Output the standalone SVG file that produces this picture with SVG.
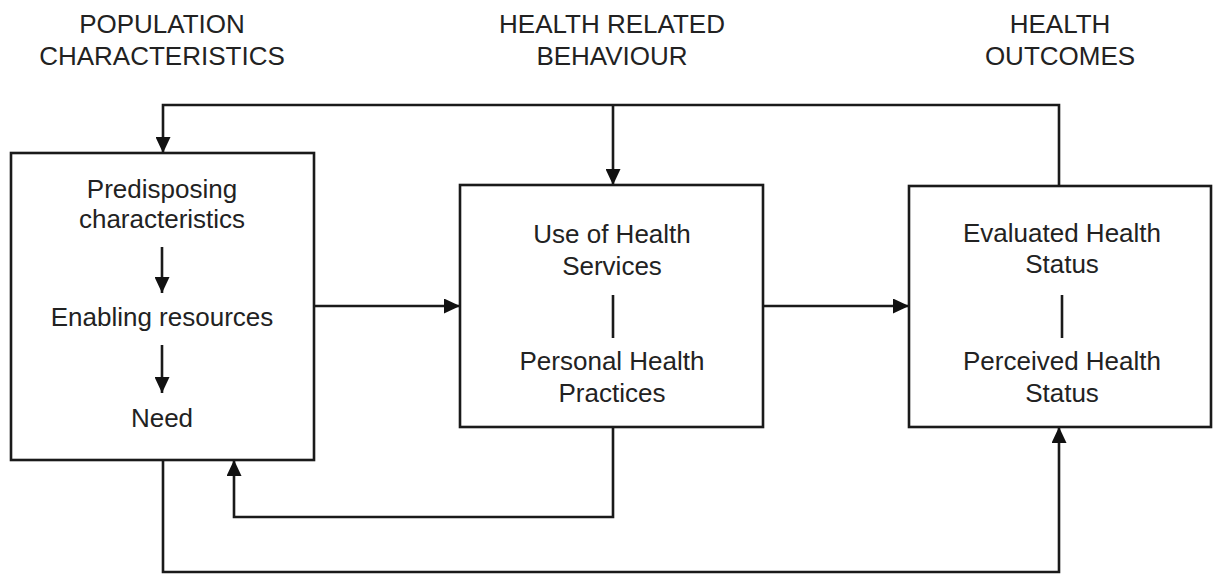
<svg xmlns="http://www.w3.org/2000/svg" width="1213" height="574" viewBox="0 0 1213 574">
  <style>
    text { font-family: "Liberation Sans", Arial, sans-serif; font-size: 26px; fill: #222; text-anchor: middle; }
    .box { fill: #fff; stroke: #1a1a1a; stroke-width: 2.6; }
    .line { fill: none; stroke: #1a1a1a; stroke-width: 2.6; }
    .arr { marker-end: url(#head); }
  </style>
  <defs>
    <marker id="head" viewBox="0 0 16 15" refX="16" refY="7.5" markerWidth="16" markerHeight="15" markerUnits="userSpaceOnUse" orient="auto">
      <path d="M0,0 L16,7.5 L0,15 Z" fill="#111"/>
    </marker>
  </defs>
  <rect width="1213" height="574" fill="#fff"/>

  <!-- column headings -->
  <g id="headings">
    <text x="162" y="33">POPULATION</text>
    <text x="162" y="65">CHARACTERISTICS</text>
    <text x="612" y="33">HEALTH RELATED</text>
    <text x="612" y="65">BEHAVIOUR</text>
    <text x="1060" y="33">HEALTH</text>
    <text x="1060" y="65">OUTCOMES</text>
  </g>

  <!-- connectors between boxes -->
  <g id="connectors">
    <path class="line arr" d="M1059,186 V105 H163 V153"/>
    <path class="line arr" d="M613,105 V185"/>
    <path class="line arr" d="M314,306 H460"/>
    <path class="line arr" d="M763,306 H909"/>
    <path class="line arr" d="M613,427 V517 H234 V460"/>
    <path class="line arr" d="M163,460 V572 H1059 V427"/>
  </g>

  <g id="population">
    <rect class="box" x="11" y="153" width="303" height="307"/>
    <text x="162" y="198">Predisposing</text>
    <text x="162" y="228">characteristics</text>
    <path class="line arr" d="M162,247 V293"/>
    <text x="162" y="326">Enabling resources</text>
    <path class="line arr" d="M162,345 V393"/>
    <text x="162" y="427">Need</text>
  </g>

  <g id="behaviour">
    <rect class="box" x="460" y="185" width="303" height="242"/>
    <text x="612" y="243">Use of Health</text>
    <text x="612" y="275">Services</text>
    <path class="line" d="M613,295 V338"/>
    <text x="612" y="370">Personal Health</text>
    <text x="612" y="402">Practices</text>
  </g>

  <g id="outcomes">
    <rect class="box" x="909" y="186" width="302" height="241"/>
    <text x="1062" y="242">Evaluated Health</text>
    <text x="1062" y="273">Status</text>
    <path class="line" d="M1062,295 V338"/>
    <text x="1062" y="370">Perceived Health</text>
    <text x="1062" y="402">Status</text>
  </g>
</svg>
